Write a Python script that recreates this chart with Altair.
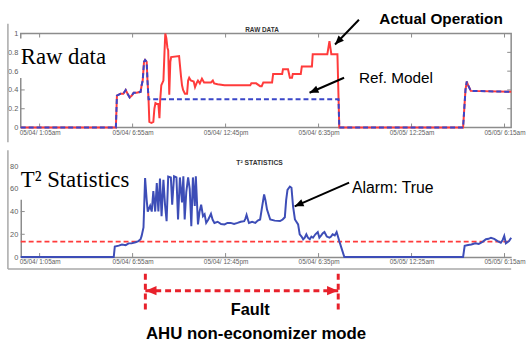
import altair as alt
import pandas as pd

# ---------------- data (x = minutes after 05/04 00:00) ----------------
tick_minutes = [65, 415, 765, 1115, 1465, 1815]
tick_labels = ["05/04/ 1:05am", "05/04/ 6:55am", "05/04/ 12:45pm",
               "05/04/ 6:35pm", "05/05/ 12:25am", "05/05/ 6:15am"]
x_domain = [-6, 1840]
raw_ticks = [0, 0.2, 0.4, 0.6, 0.8, 1]
t2_ticks = [0, 20, 40, 60, 80]

actual_t = [-6, 352, 356, 370, 380, 389, 396, 404, 412, 419,
            430, 445, 449, 453, 458, 462, 468, 471, 475, 478,
            486, 493, 497, 501, 508, 512, 516, 519, 523, 531,
            535, 538, 542, 546, 549, 553, 557, 560, 590, 597,
            601, 605, 612, 620, 624, 628, 634, 645, 650, 657,
            661, 668, 676, 684, 698, 710, 717, 722, 735, 761,
            858, 862, 880, 895, 901, 907, 940, 944, 978, 981,
            1000, 1007, 1015, 1018, 1048, 1052, 1090, 1093, 1148, 1152,
            1156, 1160, 1163, 1186, 1193, 1659, 1668, 1673, 1678, 1688,
            1840]
actual_v = [0, 0, 0.34, 0.36, 0.36, 0.40, 0.36, 0.32, 0.34, 0.37,
            0.37, 0.38, 0.45, 0.50, 0.70, 0.72, 0.70, 0.50, 0.30, 0.06,
            0.05, 0.06, 0.20, 0.26, 0.25, 0.25, 0.10, 0.30, 0.45, 0.50,
            0.80, 1.0, 0.95, 0.85, 0.82, 0.35, 0.70, 0.75, 0.76, 0.55,
            0.45, 0.40, 0.36, 0.36, 0.50, 0.53, 0.50, 0.49, 0.43, 0.48,
            0.50, 0.47, 0.52, 0.48, 0.48, 0.48, 0.50, 0.47, 0.46, 0.45,
            0.45, 0.47, 0.47, 0.44, 0.44, 0.48, 0.48, 0.57, 0.57, 0.62,
            0.62, 0.53, 0.53, 0.57, 0.57, 0.65, 0.65, 0.78, 0.78, 0.85,
            0.92, 0.84, 0.78, 0.78, 0.0, 0.0, 0.40, 0.49, 0.45, 0.39,
            0.38]

ref_t = [-6, 352, 356, 370, 380, 389, 396, 404, 412, 419,
         430, 445, 449, 453, 458, 462, 468, 471, 475, 1190,
         1193, 1659, 1668, 1673, 1678, 1688, 1840]
ref_v = [0, 0, 0.34, 0.36, 0.36, 0.40, 0.36, 0.32, 0.34, 0.37,
         0.37, 0.38, 0.45, 0.50, 0.70, 0.72, 0.70, 0.50, 0.30, 0.30,
         0.0, 0.0, 0.40, 0.49, 0.45, 0.39, 0.38]

t2_t = [-6, 344, 348, 363, 375, 389, 400, 411, 426, 437,
        445, 449, 456, 462, 468, 472, 481, 487, 493, 500,
        506, 512, 518, 524, 531, 537, 543, 549, 559, 564,
        571, 580, 586, 593, 601, 606, 611, 617, 624, 630,
        636, 642, 649, 653, 661, 667, 673, 680, 686, 692,
        700, 710, 716, 723, 735, 748, 761, 772, 784, 797,
        810, 822, 835, 840, 844, 849, 853, 865, 877, 886,
        895, 903, 910, 915, 921, 933, 950, 970, 980, 988,
        993, 998, 1007, 1013, 1019, 1026, 1038, 1044, 1051, 1057,
        1063, 1069, 1075, 1082, 1088, 1094, 1103, 1112, 1118, 1125,
        1131, 1137, 1146, 1156, 1162, 1168, 1176, 1183, 1188, 1193,
        1212, 1659, 1665, 1678, 1690, 1705, 1718, 1727, 1736, 1745,
        1755, 1764, 1776, 1789, 1801, 1808, 1814, 1820, 1826, 1832,
        1840]
t2_v = [0, 0, 9.3, 10, 11, 10.4, 12, 12, 13, 14,
        15.6, 18.6, 26, 69.5, 50, 40, 45, 40, 58, 40,
        65, 40, 69, 36, 68, 46, 31.6, 70.7, 70, 46,
        71, 70, 33, 70, 48, 71, 33, 57, 70, 60,
        27, 70, 45, 71, 28.7, 40, 46, 36, 37.7, 30,
        33, 38, 33, 30, 31, 29, 28.7, 30, 30, 29,
        30, 31, 31.6, 34, 37, 33, 30, 31, 30, 32,
        33, 45, 55, 50, 41.7, 33, 32, 31.6, 33, 35,
        50, 59, 62, 61, 44.6, 33, 28.7, 20, 18, 15.6,
        17, 20, 17, 15.6, 18, 17, 20, 22, 17, 19,
        21, 22, 18, 17, 18, 20, 19, 22, 18, 14,
        0, 0, 9.9, 10.5, 11, 12, 11.5, 12.6, 14, 15.6,
        16, 17, 16, 14, 12.6, 15, 18.6, 12, 13, 14,
        17]
t2_limit = 13.5
fault_start, fault_end = 463, 1189

assert len(actual_t) == len(actual_v)
assert len(ref_t) == len(ref_v)
assert len(t2_t) == len(t2_v)

# ---------------- styling ----------------
W, H1, H2 = 496, 95, 92
RED = "#ff3b3b"
BLUE = "#3a46c8"
T2BLUE = "#3d4db7"
FAULT_RED = "#e8212b"
FRAME = "#8c8c8c"
BORDER = "#a8a8a8"
LABEL = "#606060"
SANS = "Liberation Sans"
SERIF = "Liberation Serif"
ARROW = "M0,0L-0.42,1L0.42,1Z"

label_expr = ("[" + ",".join("'" + s + "'" for s in tick_labels) + "][indexof(["
              + ",".join(str(m) for m in tick_minutes) + "], datum.value)]")

one = pd.DataFrame({"k": [0]})
xscale = alt.Scale(domain=x_domain, nice=False, zero=False)


def x_axis(domain):
    kw = dict(values=tick_minutes, labelExpr=label_expr, ticks=False, tickSize=0,
              grid=False, labelFontSize=6.5, labelColor=LABEL, labelPadding=2,
              labelFont=SANS, domain=domain)
    if domain:
        kw.update(domainColor=FRAME, domainWidth=1.5)
    return alt.Axis(**kw)


def y_axis(vals, domain):
    kw = dict(values=vals, format=".1~f", ticks=False, tickSize=0, grid=False,
              labelFontSize=7.5, labelColor=LABEL, labelPadding=3, labelFont=SANS,
              domain=domain)
    if domain:
        kw.update(domainColor=FRAME, domainWidth=1.5)
    return alt.Axis(**kw)


ax_top_x = x_axis(False)
ax_top_y = y_axis(raw_ticks, False)
ax_bot_x = x_axis(True)
ax_bot_y = y_axis(t2_ticks, True)
yscale_top = alt.Scale(domain=[0, 1], nice=False)
yscale_bot = alt.Scale(domain=[0, 80], nice=False)


def XT(field="t"):
    return alt.X(f"{field}:Q", scale=xscale, axis=ax_top_x, title=None)


def YT(field="v"):
    return alt.Y(f"{field}:Q", scale=yscale_top, axis=ax_top_y, title=None)


def XB(field="t"):
    return alt.X(f"{field}:Q", scale=xscale, axis=ax_bot_x, title=None)


def YB(field="v"):
    return alt.Y(f"{field}:Q", scale=yscale_bot, axis=ax_bot_y, title=None)


def label(text, x, y, size, weight="normal", font=SANS, align="left", color="black"):
    return alt.Chart(one).mark_text(text=text, font=font, fontSize=size, fontWeight=weight,
                                    align=align, baseline="alphabetic", color=color).encode(
        x=alt.value(x), y=alt.value(y))


xt_df = pd.DataFrame({"t": tick_minutes})

# ---------------- top panel: raw data ----------------
top_frame = alt.Chart(one).mark_rect(filled=False, stroke=FRAME, strokeWidth=1.5).encode(
    x=alt.value(0), x2=alt.value(W), y=alt.value(0), y2=alt.value(H1))
top_xticks_b = alt.Chart(xt_df).mark_rule(color=FRAME, strokeWidth=1).encode(
    x=XT(), y=alt.value(H1), y2=alt.value(H1 - 4))
top_xticks_t = alt.Chart(xt_df).mark_rule(color=FRAME, strokeWidth=1).encode(
    x=XT(), y=alt.value(0), y2=alt.value(4))
yt_df = pd.DataFrame({"v": raw_ticks})
top_yticks_l = alt.Chart(yt_df).mark_rule(color=FRAME, strokeWidth=1).encode(
    y=YT(), x=alt.value(0), x2=alt.value(4))
top_yticks_r = alt.Chart(yt_df).mark_rule(color=FRAME, strokeWidth=1).encode(
    y=YT(), x=alt.value(W - 4), x2=alt.value(W))

actual_line = alt.Chart(pd.DataFrame({"t": actual_t, "v": actual_v})).mark_line(
    color=RED, strokeWidth=2).encode(x=XT(), y=YT())
ref_line = alt.Chart(pd.DataFrame({"t": ref_t, "v": ref_v})).mark_line(
    color=BLUE, strokeWidth=2, strokeDash=[5, 3]).encode(x=XT(), y=YT())

top_box = alt.Chart(one).mark_rect(fill="white").encode(
    x=alt.value(-1), x2=alt.value(89), y=alt.value(5), y2=alt.value(45))
top_name = label("Raw data", 0, 30.3, 23, font=SERIF)
top_title = label("RAW DATA", 244, -1.4, 6.5, weight="bold", align="center", color="#333333")

arrows_top = pd.DataFrame({"t": [1267, 1211], "v": [1.147, 0.53],
                           "t2": [1177, 1081], "v2": [0.884, 0.37],
                           "ang": [224, 246.5]})
top_arrow_lines = alt.Chart(arrows_top).mark_rule(color="black", strokeWidth=2).encode(
    x=XT(), y=YT(), x2="t2:Q", y2="v2:Q")
top_arrow_heads = alt.Chart(arrows_top).mark_point(
    shape=ARROW, filled=True, size=324, color="black", opacity=1).encode(
    x=XT("t2"), y=YT("v2"), angle=alt.Angle("ang:Q", scale=None))
txt_actual = label("Actual Operation", 362.7, -9.3, 15.5, weight="bold")
txt_ref = label("Ref. Model", 342, 49.7, 15.5)

top_anchor = alt.Chart(one).mark_rect(opacity=0).encode(
    x=alt.value(-21), x2=alt.value(-19), y=alt.value(-32), y2=alt.value(-30))
top_border = alt.Chart(one).mark_rule(color=BORDER, strokeWidth=1.5).encode(
    x=alt.value(-13), y=alt.value(-10), y2=alt.value(110))

top = alt.layer(
    top_anchor, top_border, top_frame, top_xticks_b, top_xticks_t, top_yticks_l, top_yticks_r,
    actual_line, ref_line, top_box, top_name, top_title,
    top_arrow_lines, top_arrow_heads, txt_actual, txt_ref,
).properties(width=W, height=H1)

# ---------------- bottom panel: T² statistics ----------------
bot_xticks = alt.Chart(xt_df).mark_rule(color=FRAME, strokeWidth=1).encode(
    x=XB(), y=alt.value(H2), y2=alt.value(H2 - 4))
bot_yticks = alt.Chart(pd.DataFrame({"v": t2_ticks})).mark_rule(color=FRAME, strokeWidth=1).encode(
    y=YB(), x=alt.value(0), x2=alt.value(4))
limit_line = alt.Chart(pd.DataFrame({"v": [t2_limit]})).mark_rule(
    color=RED, strokeWidth=1.8, strokeDash=[5, 3]).encode(y=YB(), x=alt.value(0), x2=alt.value(W))
t2_line = alt.Chart(pd.DataFrame({"t": t2_t, "v": t2_v})).mark_line(
    color=T2BLUE, strokeWidth=2).encode(x=XB(), y=YB())

bot_box = alt.Chart(one).mark_rect(fill="white").encode(
    x=alt.value(-1), x2=alt.value(114), y=alt.value(-6), y2=alt.value(34))
bot_name = label("T² Statistics", 0, 20.7, 23, font=SERIF)
bot_title = label("T² STATISTICS", 241.5, -1.5, 6.8, weight="bold", align="center", color="#333333")

arrows_bot = pd.DataFrame({"t": [1230], "v": [65.5], "t2": [1025], "v2": [44.6], "ang": [246.4]})
bot_arrow_line = alt.Chart(arrows_bot).mark_rule(color="black", strokeWidth=2).encode(
    x=XB(), y=YB(), x2="t2:Q", y2="v2:Q")
bot_arrow_head = alt.Chart(arrows_bot).mark_point(
    shape=ARROW, filled=True, size=324, color="black", opacity=1).encode(
    x=XB("t2"), y=YB("v2"), angle=alt.Angle("ang:Q", scale=None))
txt_alarm = label("Alarm: True", 335, 27.3, 16)

fault_df = pd.DataFrame({"t": [fault_start, fault_end]})
fault_v = alt.Chart(fault_df).mark_rule(color=FAULT_RED, strokeWidth=3, strokeDash=[6, 4]).encode(
    x=XB(), y=alt.value(109), y2=alt.value(146))
fault_h = alt.Chart(pd.DataFrame({"t": [fault_start], "t2": [fault_end]})).mark_rule(
    color=FAULT_RED, strokeWidth=3, strokeDash=[6, 4]).encode(
    x=XB(), x2="t2:Q", y=alt.value(126))
fault_heads = alt.Chart(pd.DataFrame({"t": [fault_start + 1, fault_end - 1], "ang": [270, 90]})).mark_point(
    shape=ARROW, filled=True, size=484, color=FAULT_RED, opacity=1).encode(
    x=XB(), y=alt.value(126), angle=alt.Angle("ang:Q", scale=None))
txt_fault = label("Fault", 232, 150.7, 16.5, weight="bold", align="center")
txt_mode = label("AHU non-economizer mode", 238, 174.5, 17, weight="bold", align="center")

bot_border_v = alt.Chart(one).mark_rule(color=BORDER, strokeWidth=1.5).encode(
    x=alt.value(-13), y=alt.value(-16), y2=alt.value(104))
bot_border_h = alt.Chart(one).mark_rule(color=BORDER, strokeWidth=1.5).encode(
    x=alt.value(-13), x2=alt.value(W), y=alt.value(104))

bottom = alt.layer(
    bot_border_v, bot_border_h, bot_xticks, bot_yticks, limit_line, t2_line,
    bot_box, bot_name, bot_title, bot_arrow_line, bot_arrow_head, txt_alarm,
    fault_v, fault_h, fault_heads, txt_fault, txt_mode,
).properties(width=W, height=H2)

chart = alt.vconcat(top, bottom, spacing=39, bounds="flush").properties(
    padding=0, background="white"
).configure_view(strokeWidth=0)

chart.save("out.html", embed_options={"renderer": "svg", "actions": False})
